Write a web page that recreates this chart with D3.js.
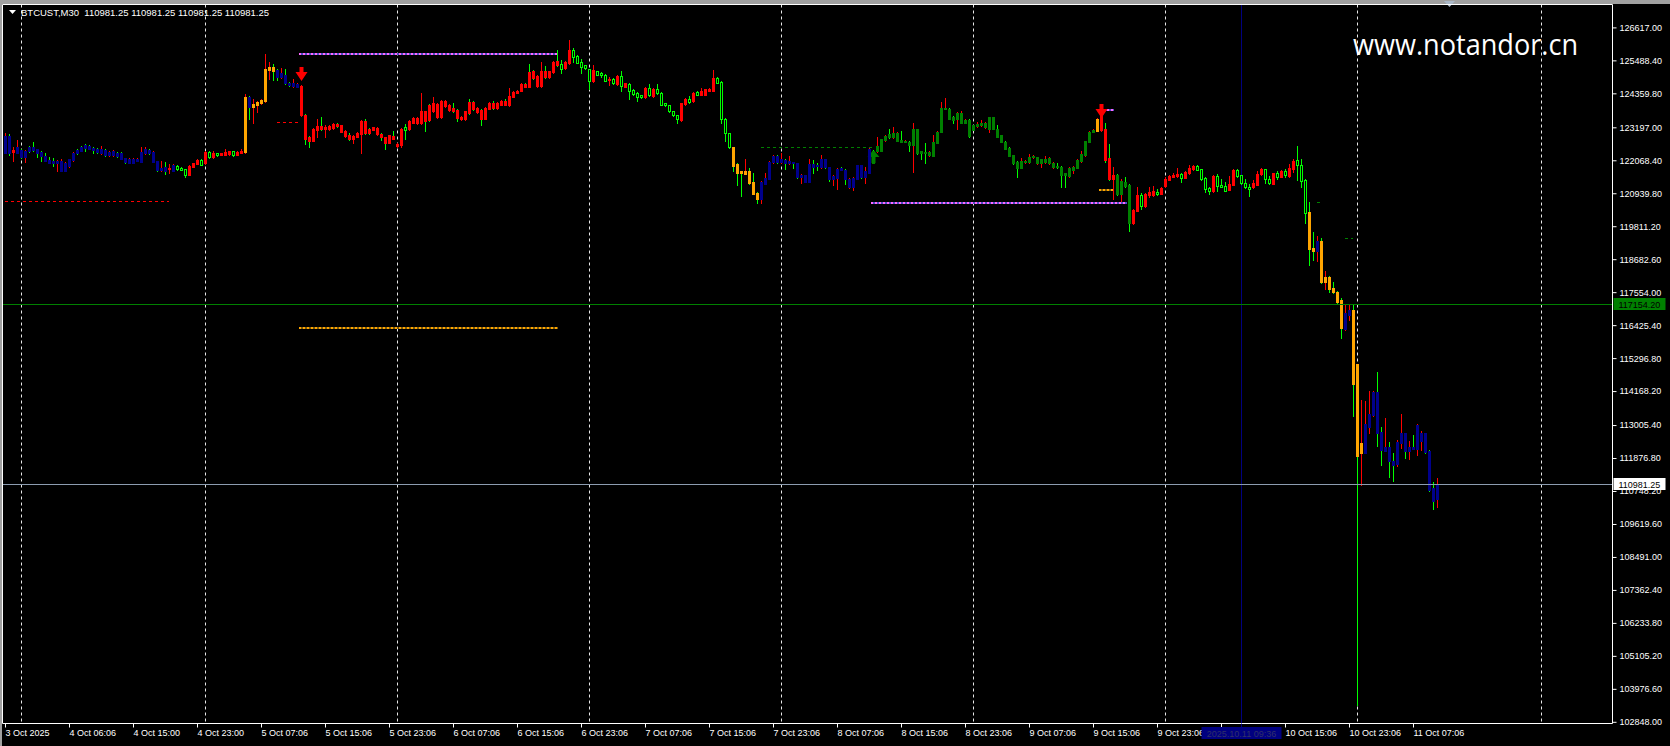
<!DOCTYPE html>
<html><head><meta charset="utf-8">
<script src="https://cdn.jsdelivr.net/npm/d3@7"></script>
<style>body{margin:0;background:#000;overflow:hidden}svg{display:block}</style>
</head><body>
<svg id="c" width="1670" height="746"></svg>
<script>
const symbolTitle = "BTCUST,M30";
const lastQuote = [110981.25, 110981.25, 110981.25, 110981.25];
const watermark = "www.notandor.cn";
const priceTicks = [126617.00,125488.40,124359.80,123197.00,122068.40,120939.80,119811.20,118682.60,117554.00,116425.40,115296.80,114168.20,113005.40,111876.80,110748.20,109619.60,108491.00,107362.40,106233.80,105105.20,103976.60,102848.00];
const timeLabels = ["3 Oct 2025","4 Oct 06:06","4 Oct 15:00","4 Oct 23:00","5 Oct 07:06","5 Oct 15:06","5 Oct 23:06","6 Oct 07:06","6 Oct 15:06","6 Oct 23:06","7 Oct 07:06","7 Oct 15:06","7 Oct 23:06","8 Oct 07:06","8 Oct 15:06","8 Oct 23:06","9 Oct 07:06","9 Oct 15:06","9 Oct 23:06","10 Oct 07:06","10 Oct 15:06","10 Oct 23:06","11 Oct 07:06"];
const timeLabelBars = timeLabels.map((d,i)=>i*16);
const dayGridBars = [4,50,98,146,194,242,290,338,384];
const cursorBar = 309;
const cursorLabel = "2025.10.11 09:36";
const supportLine = 117154.20;
const lastPrice = 110981.25;
// [open, high, low, close, indicator state]
const candles = [
[122333,122994,122310,122903,'n'],[122903,122971,122253,122333,'n'],[122356,122538,122059,122424,'x'],[122333,122766,122310,122515,'n'],[122424,122470,122150,122196,'n'],
[122196,122424,122025,122390,'n'],[122538,122561,122356,122390,'n'],[122538,122698,122390,122424,'n'],[122447,122470,122196,122333,'n'],[122356,122370,122059,122219,'n'],
[122219,122310,122040,122059,'n'],[122082,122173,121968,121991,'n'],[122059,122150,121877,121991,'n'],[121991,122082,121706,122059,'n'],[121706,122100,121700,122059,'n'],
[121706,122014,121690,121968,'n'],[121877,122120,121854,122105,'n'],[122082,122356,122060,122310,'n'],[122424,122450,122290,122310,'n'],[122538,122560,122380,122401,'n'],
[122584,122629,122401,122492,'n'],[122561,122606,122440,122470,'n'],[122504,122538,122333,122424,'n'],[122447,122490,122330,122356,'n'],[122310,122561,122290,122470,'n'],
[122424,122447,122220,122253,'n'],[122253,122400,122210,122367,'n'],[122242,122420,122220,122390,'n'],[122333,122356,122190,122219,'n'],[122310,122356,122100,122128,'n'],
[122139,122160,121980,122014,'n'],[121991,122160,121960,122128,'n'],[121991,122130,121970,122105,'n'],[122036,122150,122030,122128,'n'],[122025,122515,122000,122367,'n'],
[122310,122515,122290,122470,'n'],[122424,122470,122290,122310,'n'],[122025,122380,122000,122356,'n'],[122036,122040,121710,121740,'n'],[121740,122059,121717,121820,'n'],
[121854,122014,121603,121717,'n'],[121763,121945,121649,121808,'x'],[121717,121930,121700,121900,'n'],[121877,121900,121740,121763,'x'],[121820,121850,121720,121740,'x'],
[121763,121770,121512,121569,'x'],[121580,121900,121560,121877,'x'],[121854,121990,121840,121968,'x'],[121945,122100,121930,122082,'x'],[122082,122100,121900,121922,'x'],
[121968,122380,121950,122356,'x'],[122356,122380,122150,122173,'x'],[122173,122370,122150,122333,'x'],[122310,122330,122230,122253,'x'],[122253,122330,122240,122310,'x'],
[122264,122447,122240,122356,'x'],[122287,122400,122260,122378,'x'],[122378,122400,122230,122264,'x'],[122264,122380,122240,122356,'x'],[122333,122440,122310,122401,'x'],
[122367,124339,122333,124248,'o'],[124225,124260,123496,123906,'n'],[123906,124180,123359,123997,'o'],[123974,124100,123724,124066,'o'],[124043,124160,124000,124134,'o'],
[124100,125707,124060,125194,'o'],[125160,125434,124864,125274,'o'],[125251,125365,124818,125137,'o'],[125160,125200,124818,124909,'n'],[124932,125228,124900,125046,'n'],
[124978,125183,124680,124704,'n'],[124727,124760,124600,124647,'n'],[124613,124841,124590,124704,'n'],[124590,124700,124570,124681,'n'],[123621,124640,123600,124613,'x'],
[123621,123655,122629,122789,'r'],[122880,122900,122538,122743,'r'],[122743,123180,122720,123154,'x'],[123108,123473,122880,123245,'x'],[123245,123541,123110,123131,'r'],
[123131,123290,122880,123199,'x'],[123131,123270,123110,123245,'x'],[123176,123340,123150,123313,'x'],[123313,123359,123220,123245,'r'],[123040,123290,123020,123268,'x'],
[122903,123110,122880,123085,'x'],[122937,123017,122760,122789,'r'],[122789,122930,122675,122903,'x'],[122880,123020,122860,122994,'x'],[122971,123450,122310,123404,'x'],
[123404,123473,122970,122994,'r'],[123154,123180,122960,122994,'r'],[123108,123220,123090,123199,'x'],[122971,123200,122950,123176,'x'],[122971,122990,122766,122857,'r'],
[122857,122880,122470,122675,'r'],[122926,122950,122650,122675,'r'],[122903,123085,122790,122812,'r'],[122561,122650,122540,122629,'x'],[122584,123176,122515,123131,'x'],
[123199,123313,122812,123108,'x'],[123131,123450,123110,123427,'x'],[123359,123540,123340,123518,'x'],[123336,123540,123320,123518,'x'],[123336,124385,123320,123769,'x'],
[123746,123770,123085,123427,'r'],[123974,124000,123420,123450,'r'],[123746,124248,123720,124020,'x'],[123541,124020,123520,123997,'x'],[123541,124140,123520,124111,'x'],
[123929,124130,123900,124111,'x'],[123792,124000,123770,123974,'x'],[123860,124043,123720,123746,'r'],[123792,123810,123404,123518,'r'],[123473,123590,123450,123564,'x'],
[123473,123770,123450,123746,'x'],[124066,124180,123650,123678,'r'],[124066,124100,123790,123815,'r'],[123724,123890,123700,123860,'x'],[123792,123810,123290,123473,'r'],
[123496,123890,123470,123860,'x'],[123838,124070,123810,124043,'x'],[124043,124088,123840,123860,'r'],[123860,124070,123840,124043,'x'],[123974,124140,123950,124111,'x'],
[124111,124160,123950,123974,'r'],[123952,124544,123930,124271,'x'],[124248,124430,124220,124408,'x'],[124385,124480,124360,124453,'x'],[124453,124710,124430,124681,'x'],
[124681,124720,124570,124590,'r'],[125092,125365,124570,124590,'r'],[125114,125150,124860,124886,'r'],[124613,124980,124590,124955,'x'],[124613,125434,124590,125114,'x'],
[125114,125297,124890,124909,'r'],[124909,125140,124890,125114,'x'],[125092,125460,125070,125434,'x'],[125479,125844,125300,125320,'r'],[125365,125502,125046,125206,'x'],
[125228,125460,125200,125434,'x'],[125388,126186,125360,125844,'x'],[125844,125912,125434,125616,'x'],[125639,125680,125390,125411,'x'],[125434,125548,125046,125274,'x'],
[125320,125340,125200,125228,'x'],[125183,125200,124499,124772,'x'],[124772,125320,124750,125160,'x'],[125114,125140,124980,125000,'x'],[125046,125080,124930,124978,'x'],
[125000,125020,124770,124795,'x'],[124818,124932,124658,124841,'x'],[124864,124880,124680,124704,'x'],[124681,124980,124660,124955,'x'],[124955,125114,124453,124613,'x'],
[124590,124730,124580,124704,'x'],[124681,124700,124180,124453,'x'],[124476,124500,124320,124339,'x'],[124385,124410,124111,124248,'x'],[124294,124310,124200,124225,'x'],
[124225,124570,124200,124544,'x'],[124544,124681,124270,124294,'x'],[124271,124550,124250,124522,'x'],[124499,124681,124340,124362,'x'],[124385,124410,123950,123974,'x'],
[124020,124040,123930,123952,'x'],[123952,123970,123720,123746,'x'],[123746,123760,123590,123610,'x'],[123610,123630,123336,123473,'x'],[123450,124040,123430,124020,'x'],
[123997,124200,123970,124180,'x'],[124180,124271,124040,124066,'x'],[124088,124410,124060,124385,'x'],[124408,124430,124300,124316,'x'],[124316,124544,124300,124430,'x'],
[124316,124520,124300,124499,'x'],[124453,124550,124430,124522,'x'],[124453,125160,124430,124886,'x'],[124886,124910,124700,124727,'x'],[124750,124770,123359,123473,'x'],
[123496,123510,122743,122994,'x'],[122994,123000,122500,122515,'x'],[122515,122530,121717,121877,'o'],[121945,121960,121238,121649,'o'],[121694,121710,120851,121626,'o'],
[121603,122128,121590,121717,'o'],[121717,121808,121260,121284,'o'],[121330,121626,120900,120919,'o'],[120965,120980,120600,120760,'o'],[120760,121350,120600,121330,'n'],
[121261,121626,121240,121466,'n'],[121444,122040,121420,122014,'n'],[122014,122240,121990,122219,'n'],[122219,122240,121990,122014,'n'],[122014,122310,121990,122105,'n'],
[122082,122100,121786,121991,'n'],[121968,122219,121950,122059,'n'],[122014,122020,121808,121970,'n'],[121968,121990,121470,121489,'n'],[121489,121600,121284,121580,'n'],
[121557,121580,121310,121330,'n'],[121330,122128,121310,121945,'n'],[121945,122082,121626,121854,'n'],[121922,121968,121740,121877,'n'],[121831,122242,121810,122105,'n'],
[122105,122120,121810,121831,'n'],[121831,121850,121352,121444,'n'],[121444,121560,121238,121535,'n'],[121466,121800,121101,121786,'n'],[121808,121830,121720,121740,'n'],
[121740,121760,121261,121444,'n'],[121147,121460,121120,121444,'n'],[121147,121490,121056,121466,'n'],[121444,121920,121420,121900,'n'],[121900,121920,121470,121489,'n'],
[121512,121854,121307,121694,'n'],[121649,122500,121630,122470,'n'],[122401,122420,121970,121991,'d'],[122378,122857,122360,122561,'d'],[122789,122810,122380,122401,'d'],
[122766,122930,122740,122903,'d'],[122971,123131,122840,122857,'d'],[122857,123199,122840,122994,'d'],[122743,123040,122720,123017,'d'],[122766,123085,122680,122698,'d'],
[122698,122770,122680,122743,'d'],[122698,122720,122401,122584,'d'],[122607,123336,121672,123131,'d'],[123131,123150,122290,122310,'d'],[122378,122400,122128,122310,'d'],
[122356,122652,121968,122310,'d'],[122242,122380,122220,122356,'d'],[122219,122926,122200,122698,'d'],[122675,123060,122650,123040,'d'],[123040,124066,123020,123860,'d'],
[123838,124202,123820,123860,'d'],[123838,123860,123470,123496,'d'],[123564,123580,123336,123450,'d'],[123496,123720,123154,123701,'d'],[123359,123746,123340,123701,'d'],
[123359,123470,123340,123450,'d'],[123450,123470,122880,122903,'d'],[123268,123290,123090,123108,'d'],[123245,123382,123220,123313,'d'],[123268,123450,123250,123336,'d'],
[123199,123380,123180,123359,'d'],[123154,123560,123040,123541,'d'],[123541,123560,123130,123154,'d'],[123154,123268,122860,122880,'d'],[122926,122940,122680,122698,'d'],
[122698,122720,122450,122470,'d'],[122492,122510,122200,122219,'d'],[122242,122260,121950,121968,'d'],[122014,122030,121489,121808,'d'],[121808,122150,121790,122036,'d'],
[122014,122080,121990,122059,'d'],[122014,122287,121990,122196,'d'],[122173,122240,122150,122219,'d'],[121968,122196,121950,122173,'d'],[121991,122120,121831,122105,'d'],
[122014,122219,121990,122128,'d'],[121968,122170,121950,122150,'d'],[121831,122010,121810,121991,'d'],[121877,121991,121810,121831,'d'],[121854,121870,121170,121557,'d'],
[121626,121640,121170,121557,'d'],[121535,121830,121510,121808,'d'],[121740,121870,121626,121854,'d'],[121808,122100,121790,122082,'d'],[122036,122401,122020,122287,'d'],
[122242,122740,122220,122720,'d'],[122698,123060,122680,123040,'d'],[123040,123150,123020,123108,'d'],[123085,123520,123060,123496,'o'],[123108,123820,123085,123792,'x'],
[123140,123356,122025,122082,'r'],[122150,122629,121400,121420,'r'],[121420,121843,120760,121569,'x'],[121569,121600,120890,120919,'d'],[120919,121420,120691,121363,'d'],
[121330,121489,121170,121193,'d'],[121227,121250,119660,119911,'d'],[119911,120400,119890,120372,'x'],[120349,121147,120330,120885,'x'],[120885,120965,120413,120504,'x'],
[120504,120940,120480,120919,'x'],[120892,121147,120801,120983,'x'],[120885,121193,120860,121018,'x'],[120983,121101,120874,120919,'x'],[120919,121150,120900,121124,'x'],
[121193,121512,121170,121420,'x'],[121398,121560,121380,121535,'x'],[121512,121649,121490,121569,'x'],[121535,121808,121510,121603,'x'],[121603,121620,121330,121466,'x'],
[121466,121690,121450,121672,'x'],[121626,121922,121600,121808,'x'],[121763,121900,121740,121877,'x'],[121877,121900,121720,121740,'x'],[121763,121780,121400,121420,'x'],
[121466,121480,120983,121101,'x'],[121124,121140,120919,121029,'x'],[121006,121560,120990,121535,'x'],[121535,121603,121029,121193,'x'],[121216,121420,121150,121170,'x'],
[121193,121330,121010,121029,'x'],[121056,121535,121040,121261,'x'],[121238,121760,121220,121740,'x'],[121740,121760,121510,121535,'x'],[121557,121580,121260,121284,'x'],
[121284,121420,121124,121147,'x'],[121170,121261,120851,121101,'x'],[121147,121398,121130,121284,'x'],[121238,121717,121220,121603,'x'],[121603,121790,121580,121763,'x'],
[121763,121780,121307,121420,'x'],[121420,121535,121260,121284,'x'],[121261,121650,121240,121626,'x'],[121626,121717,121420,121512,'x'],[121512,121720,121490,121694,'x'],
[121694,121763,121489,121557,'x'],[121535,121945,121510,121808,'x'],[121786,122105,121672,122036,'x'],[122082,122561,121398,121900,'x'],[121900,122128,121170,121375,'x'],
[121398,121420,119934,120257,'x'],[120303,120645,118496,119048,'o'],[119071,119619,118662,118980,'o'],[118980,119482,118605,119300,'n'],[119300,119414,117880,117903,'o'],
[117903,118291,117675,118085,'o'],[118062,118108,117545,117675,'o'],[117704,117903,117520,117545,'o'],[117568,117590,117200,117226,'o'],[117271,117340,115972,116313,'o'],
[116291,117112,116245,116838,'n'],[116770,117157,116587,116929,'n'],[116929,117157,113326,114421,'o'],[115096,115110,103430,111947,'o'],[112061,113863,110965,112380,'o'],
[112061,113841,112038,113042,'n'],[112950,114185,112722,113384,'n'],[113338,114185,113320,114138,'n'],[114138,114822,112289,112745,'n'],[112768,112950,111650,112152,'n'],
[112129,113248,112110,112266,'n'],[112243,112420,111239,111786,'n'],[111786,112061,111102,111650,'n'],[111673,112494,111604,112426,'n'],[112403,113384,112220,112722,'n'],
[112722,112740,111878,112106,'n'],[112106,112471,111855,112266,'n'],[112266,112677,112174,112197,'n'],[112174,113042,111992,112996,'n'],[112449,112813,112152,112722,'n'],
[112722,112740,112060,112084,'n'],[112107,112151,110748,110782,'n'],[110850,111056,110142,110416,'n'],[110464,111193,110210,110981.25,'n']
];
// drawn horizontal segments: price, first bar, last bar, kind
const levels = [
 {price:120675, from:0,     to:41,     kind:'redDash'},
 {price:123369, from:68,    to:73.25,  kind:'redDash'},
 {price:125707, from:73.5,  to:138,    kind:'violetDot'},
 {price:116328, from:73.5,  to:138.25, kind:'orangeDot'},
 {price:122513, from:189,   to:217,    kind:'greenDash'},
 {price:120616, from:216.5, to:280.5,  kind:'violetDot'},
 {price:123800, from:273.5, to:277.25, kind:'violetDot'},
 {price:121061, from:273.5, to:277.25, kind:'orangeDot'},
 {price:120630, from:328,   to:328.75, kind:'greenDash'},
 {price:119398, from:335,   to:337,    kind:'greenDash'}
];
const arrows = [
 {bar:74,  price:124782, dir:'down'},
 {bar:274, price:123506, dir:'down'},
 {bar:217, price:122420, dir:'up'}
];

const W=1670,H=746, L=2.5, R=1612.5, T=4.5, B=723.5;
const svg=d3.select('#c');
const x=d3.scaleLinear().domain([0,400]).range([5,1605]);
const y=d3.scaleLinear().domain([102848,126617]).range([721.8,27.4]);
const FONT='"Liberation Sans", Arial, sans-serif';

svg.append('rect').attr('width',W).attr('height',H).attr('fill','#000');
svg.append('rect').attr('width',W).attr('height',4).attr('fill','#a0a0a0');
svg.append('rect').attr('width',2).attr('height',H).attr('fill','#a0a0a0');
svg.append('path').attr('d','M1444,1 L1455,1 L1449.5,7 Z').attr('fill','#aab8c8');

const defs=svg.append('defs');
defs.append('clipPath').attr('id','clip').append('rect').attr('x',L).attr('y',T).attr('width',R-L).attr('height',B-T);
const plot=svg.append('g').attr('clip-path','url(#clip)');

plot.selectAll('line.grid').data(dayGridBars).join('line').attr('class','grid')
 .attr('x1',d=>Math.round(x(d))+0.5).attr('x2',d=>Math.round(x(d))+0.5)
 .attr('y1',T).attr('y2',B).attr('stroke','#e8e8e8').attr('stroke-dasharray','3,3');

plot.append('line').attr('x1',Math.round(x(cursorBar))+0.5).attr('x2',Math.round(x(cursorBar))+0.5)
 .attr('y1',T).attr('y2',B).attr('stroke','#000080');

const py=v=>Math.round(y(v));
levels.forEach(l=>{
  const x1=x(l.from), x2=x(l.to), yy=py(l.price);
  if(l.kind==='redDash'){
    plot.append('line').attr('x1',x1).attr('x2',x2).attr('y1',yy+0.5).attr('y2',yy+0.5).attr('stroke','#ff0000').attr('stroke-dasharray','3,3');
  } else if(l.kind==='greenDash'){
    plot.append('line').attr('x1',x1).attr('x2',x2).attr('y1',yy+0.5).attr('y2',yy+0.5).attr('stroke','#008000').attr('stroke-dasharray','3,3');
  } else if(l.kind==='violetDot'){
    plot.append('line').attr('x1',x1).attr('x2',x2).attr('y1',yy).attr('y2',yy).attr('stroke','#5050c8').attr('stroke-width',2).attr('stroke-dasharray','2,2').attr('stroke-dashoffset',2);
    plot.append('line').attr('x1',x1).attr('x2',x2).attr('y1',yy).attr('y2',yy).attr('stroke','#ff66ff').attr('stroke-width',2).attr('stroke-dasharray','2,2');
  } else if(l.kind==='orangeDot'){
    plot.append('line').attr('x1',x1).attr('x2',x2).attr('y1',yy).attr('y2',yy).attr('stroke','#7a5a10').attr('stroke-width',2).attr('stroke-dasharray','2,2').attr('stroke-dashoffset',2);
    plot.append('line').attr('x1',x1).attr('x2',x2).attr('y1',yy).attr('y2',yy).attr('stroke','#ffa500').attr('stroke-width',2).attr('stroke-dasharray','2,2');
  }
});

arrows.forEach(a=>{
  const cx=Math.round(x(a.bar))+0.5, t=py(a.price);
  if(a.dir==='down') a.path=`M${cx-2},${t-14} L${cx+2},${t-14} L${cx+2},${t-9} L${cx+6},${t-9} L${cx},${t} L${cx-6},${t-9} L${cx-2},${t-9} Z`;
  else a.path=`M${cx-2},${t+13} L${cx+2},${t+13} L${cx+2},${t+7} L${cx+6},${t+7} L${cx},${t} L${cx-6},${t+7} L${cx-2},${t+7} Z`;
});
plot.selectAll('path.up').data(arrows.filter(a=>a.dir==='up')).join('path').attr('d',a=>a.path).attr('fill','#008000');

const paint={n:'#00008b',o:'#ffa500',d:'#008000',r:'#ff0000'};
const cg=plot.append('g');
candles.forEach((c,i)=>{
  const [o,h,l,cl,s]=c;
  const cx=Math.round(x(i));
  const up=cl>=o;
  const wickCol=up?'#ff0000':'#00ff00';
  cg.append('line').attr('x1',cx+0.5).attr('x2',cx+0.5).attr('y1',py(h)).attr('y2',py(l)+1).attr('stroke',wickCol);
  const yt=py(Math.max(o,cl)), yb=py(Math.min(o,cl));
  const hgt=Math.max(1,yb-yt);
  if(s==='x'){
    if(up) cg.append('rect').attr('x',cx-1).attr('y',yt).attr('width',3).attr('height',hgt+1).attr('fill','#ff0000');
    else cg.append('rect').attr('x',cx-0.5).attr('y',yt+0.5).attr('width',2).attr('height',Math.max(0,hgt)).attr('fill','#000').attr('stroke','#00ff00');
  } else {
    cg.append('rect').attr('x',cx-1).attr('y',yt).attr('width',3).attr('height',hgt+1).attr('fill',paint[s]);
  }
});

plot.selectAll('path.down').data(arrows.filter(a=>a.dir==='down')).join('path').attr('d',a=>a.path).attr('fill','#ff0000');

const ySup=py(supportLine)+0.5, yLast=py(lastPrice)+0.5;
plot.append('line').attr('x1',L).attr('x2',R).attr('y1',ySup).attr('y2',ySup).attr('stroke','#008000');
plot.append('line').attr('x1',L).attr('x2',R).attr('y1',yLast).attr('y2',yLast).attr('stroke','#8c9cb0');

svg.append('path').attr('d',`M${L},${B} L${L},${T} L${R},${T} L${R},${B} L${L},${B}`).attr('fill','none').attr('stroke','#ffffff');

const ya=svg.append('g').attr('transform',`translate(${R},0)`)
 .call(d3.axisRight(y).tickValues(priceTicks).tickFormat(d3.format('.2f')).tickSize(4).tickPadding(3));
ya.select('.domain').remove();
ya.selectAll('line').attr('stroke','#fff');
ya.selectAll('text').attr('fill','#fff').style('font-family',FONT).style('font-size','9px');

// time axis; the label under the cursor tag is hidden by it
const cxp=Math.round(x(cursorBar))+0.5;
const xa=svg.append('g').attr('transform',`translate(0,${B})`)
 .call(d3.axisBottom(x).tickValues(timeLabelBars).tickFormat((d,i)=>Math.abs(x(d)-cxp)<30?'':timeLabels[i]).tickSize(4).tickPadding(2));
xa.select('.domain').remove();
xa.selectAll('line').attr('stroke','#fff');
xa.selectAll('text').attr('fill','#fff').attr('text-anchor','start').attr('x',0).style('font-family',FONT).style('font-size','9px');

function priceTag(v,bg,fg){
  const yy=py(v);
  svg.append('rect').attr('x',R+1).attr('y',yy-6).attr('width',52).attr('height',12).attr('fill',bg);
  svg.append('text').attr('x',R+6).attr('y',yy+3.5).text(d3.format('.2f')(v)).attr('fill',fg).style('font-family',FONT).style('font-size','9px');
}
priceTag(supportLine,'#008000','#000');
priceTag(lastPrice,'#ffffff','#000');

svg.append('line').attr('x1',cxp).attr('x2',cxp).attr('y1',B).attr('y2',727).attr('stroke','#000080');
svg.append('rect').attr('x',cxp-40).attr('y',727).attr('width',80).attr('height',12).attr('fill','#000080');
svg.append('text').attr('x',cxp).attr('y',736.5).attr('text-anchor','middle').text(cursorLabel).attr('fill','#30306a').style('font-family',FONT).style('font-size','9px');

svg.append('path').attr('d','M9,10 L16,10 L12.5,14 Z').attr('fill','#fff');
svg.append('text').attr('x',21).attr('y',16).attr('fill','#fff').style('font-family',FONT).style('font-size','9.5px').attr('xml:space','preserve')
 .text(symbolTitle+'  '+lastQuote.map(d3.format('.2f')).join(' '));

svg.append('text').attr('x',1353).attr('y',55).attr('fill','#fff').style('font-family','"Open Sans", sans-serif').style('font-size','30px')
 .attr('textLength',225).attr('lengthAdjust','spacingAndGlyphs').text(watermark);
</script>
</body></html>
